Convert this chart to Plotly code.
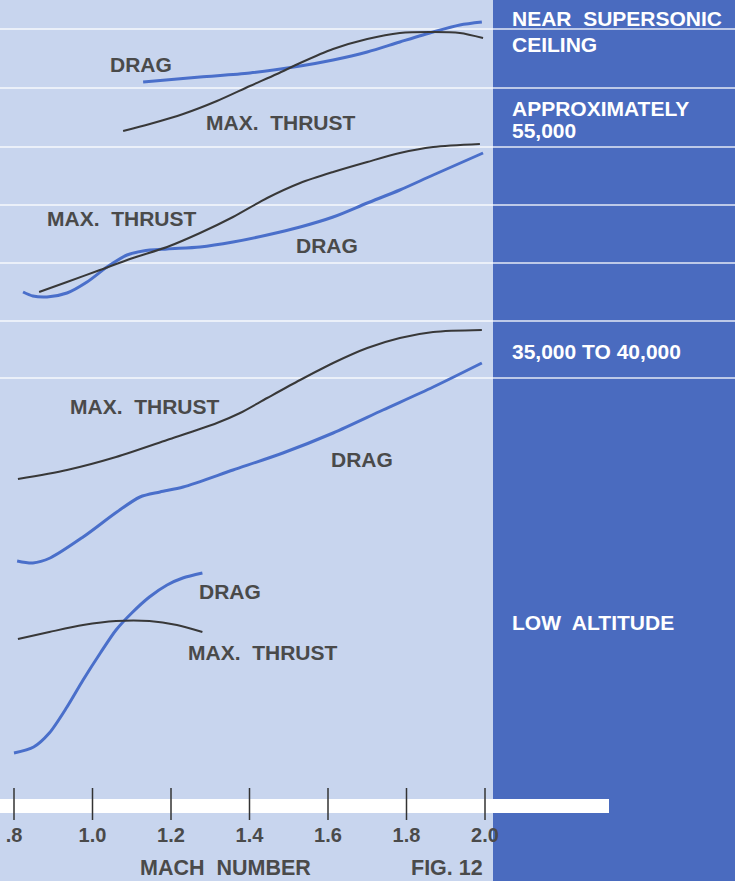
import plotly.graph_objects as go

# ---- data (Mach number vs relative force, arbitrary units) ----
# Panel 1: near supersonic ceiling
p1_drag_mach = [1.129, 1.274, 1.401, 1.529, 1.613, 1.70, 1.783, 1.868, 1.936, 1.992]
p1_drag_val = [799, 804, 808, 815, 821, 829, 839, 849, 856, 859]
p1_thrust_mach = [1.078, 1.146, 1.231, 1.317, 1.401, 1.47, 1.529, 1.613, 1.70, 1.783, 1.868, 1.936, 1.995]
p1_thrust_val = [750, 757, 767, 780, 795, 807, 818, 832, 842, 848, 849, 848, 843]

# Panel 2: approximately 55,000
p2_thrust_mach = [0.864, 0.935, 1.019, 1.103, 1.19, 1.274, 1.358, 1.445, 1.529, 1.613, 1.70, 1.783, 1.868, 1.987]
p2_thrust_val = [589, 599, 611, 623, 634, 648, 664, 683, 698, 709, 719, 728, 734, 737]
p2_drag_mach = [0.823, 0.848, 0.884, 0.935, 0.986, 1.037, 1.088, 1.129, 1.19, 1.274, 1.358, 1.445, 1.529, 1.613, 1.70, 1.783, 1.868, 1.995]
p2_drag_val = [589, 585, 584, 588, 599, 614, 626, 630, 632, 634, 639, 646, 654, 664, 678, 691, 706, 728]

# Panel 3: 35,000 to 40,000
p3_thrust_mach = [0.81, 0.935, 1.06, 1.19, 1.317, 1.376, 1.445, 1.529, 1.613, 1.70, 1.783, 1.868, 1.992]
p3_thrust_val = [402, 411, 424, 441, 458, 468, 483, 501, 518, 533, 543, 549, 551]
p3_drag_mach = [0.808, 0.848, 0.892, 0.976, 1.062, 1.121, 1.172, 1.231, 1.358, 1.485, 1.613, 1.74, 1.868, 1.992]
p3_drag_val = [320, 318, 323, 344, 369, 384, 389, 394, 411, 428, 448, 471, 494, 518]

# Panel 4: low altitude
p4_drag_mach = [0.80, 0.85, 0.89, 0.935, 0.976, 1.02, 1.06, 1.10, 1.145, 1.19, 1.23, 1.28]
p4_drag_val = [128, 134, 148, 174, 201, 228, 251, 268, 284, 296, 303, 308]
p4_thrust_mach = [0.81, 0.89, 0.976, 1.06, 1.145, 1.215, 1.28]
p4_thrust_val = [242, 249, 256, 260, 260, 256, 249]

tick_values = [0.8, 1.0, 1.2, 1.4, 1.6, 1.8, 2.0]
tick_labels = [".8", "1.0", "1.2", "1.4", "1.6", "1.8", "2.0"]

grid_levels = [852, 793, 734, 676, 618, 560, 503]

curve_labels = [
    ("DRAG", 1.1236, 817),
    ("MAX.\u00a0 THRUST", 1.480, 759),
    ("MAX.\u00a0 THRUST", 1.075, 663),
    ("DRAG", 1.597, 636),
    ("MAX.\u00a0 THRUST", 1.134, 475),
    ("DRAG", 1.687, 422),
    ("DRAG", 1.350, 290),
    ("MAX.\u00a0 THRUST", 1.434, 229),
]
altitude_labels = [
    ("NEAR\u00a0 SUPERSONIC", 863),
    ("CEILING", 837),
    ("APPROXIMATELY", 773),
    ("55,000", 751),
    ("35,000 TO 40,000", 530),
    ("LOW\u00a0 ALTITUDE", 259),
]

# ---- styles ----
BG = "#c8d5ee"
PANEL = "#4a6bbf"
BLUE = "#4a6fca"
BLACK = "#383838"
TEXT = "#4a4a4a"
FONT = "Liberation Sans, Arial, sans-serif"

fig = go.Figure()

def add_curve(xs, ys, color, width):
    fig.add_trace(go.Scatter(x=xs, y=ys, mode="lines",
                             line=dict(color=color, width=width, shape="spline", smoothing=0.8),
                             hoverinfo="skip", showlegend=False))

add_curve(p1_drag_mach, p1_drag_val, BLUE, 3)
add_curve(p1_thrust_mach, p1_thrust_val, BLACK, 2)
add_curve(p2_drag_mach, p2_drag_val, BLUE, 3)
add_curve(p2_thrust_mach, p2_thrust_val, BLACK, 2)
add_curve(p3_drag_mach, p3_drag_val, BLUE, 3)
add_curve(p3_thrust_mach, p3_thrust_val, BLACK, 2)
add_curve(p4_drag_mach, p4_drag_val, BLUE, 3)
add_curve(p4_thrust_mach, p4_thrust_val, BLACK, 2)

shapes = []
# dark blue altitude panel
shapes.append(dict(type="rect", xref="paper", yref="paper", x0=493/735, x1=1, y0=0, y1=1,
                   fillcolor=PANEL, line=dict(width=0), layer="below"))
# white level lines
for g in grid_levels:
    shapes.append(dict(type="line", xref="paper", yref="y", x0=0, x1=1, y0=g, y1=g,
                       line=dict(color="rgba(255,255,255,0.85)", width=1.5), layer="below"))
# white axis bar
shapes.append(dict(type="rect", xref="paper", yref="y", x0=0, x1=609/735, y0=68, y1=82,
                   fillcolor="white", line=dict(width=0), layer="below"))
fig.update_layout(shapes=shapes)

# tick marks
tx, ty = [], []
for t in tick_values:
    tx += [t, t, None]
    ty += [61, 93, None]
fig.add_trace(go.Scatter(x=tx, y=ty, mode="lines", line=dict(color="#333333", width=1.5),
                         hoverinfo="skip", showlegend=False))
# tick labels
fig.add_trace(go.Scatter(x=tick_values, y=[44]*len(tick_values), mode="text", text=tick_labels,
                         textfont=dict(family=FONT, size=20, color=TEXT, weight="bold"),
                         hoverinfo="skip", showlegend=False))

ann = []
for txt, x, y in curve_labels:
    ann.append(dict(x=x, y=y, text="<b>%s</b>" % txt, showarrow=False, xanchor="center", yanchor="middle",
                    font=dict(family=FONT, size=21, color=TEXT)))
for txt, y in altitude_labels:
    ann.append(dict(x=2.0637, y=y, text="<b>%s</b>" % txt, showarrow=False, xanchor="left", yanchor="middle",
                    font=dict(family=FONT, size=21, color="white")))
ann.append(dict(x=1.340, y=13, text="<b>MACH\u00a0 NUMBER</b>", showarrow=False, xanchor="center",
                yanchor="middle", font=dict(family=FONT, size=21.5, color=TEXT)))
ann.append(dict(x=1.903, y=13, text="<b>FIG. 12</b>", showarrow=False, xanchor="center",
                yanchor="middle", font=dict(family=FONT, size=21.5, color=TEXT)))

fig.update_layout(
    annotations=ann,
    width=735, height=881,
    margin=dict(l=0, r=0, t=0, b=0),
    paper_bgcolor=BG, plot_bgcolor=BG,
    xaxis=dict(range=[0.8 - 14/392.5, 0.8 + 721/392.5], visible=False, fixedrange=True),
    yaxis=dict(range=[0, 881], visible=False, fixedrange=True),
    showlegend=False,
)

fig.write_html("out.html", config={"displayModeBar": False},
               post_script="document.body.style.margin='0';document.body.style.overflow='hidden';")
